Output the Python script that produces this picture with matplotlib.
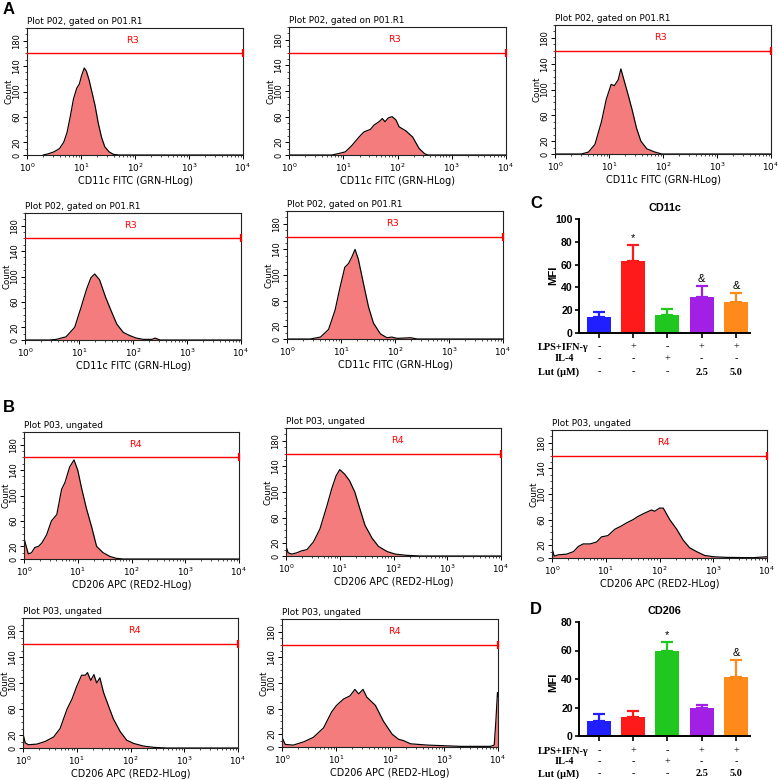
import numpy as np
import matplotlib
matplotlib.use('Agg')
import matplotlib.pyplot as plt
import matplotlib.transforms as mtransforms
from matplotlib.ticker import MultipleLocator, LogLocator, NullFormatter

# ---------------- data ----------------
# Histograms: log10(fluorescence) and count
a1_logx = [0.30, 0.40, 0.50, 0.60, 0.68, 0.74, 0.80, 0.86, 0.92, 0.97, 1.01, 1.06, 1.10, 1.15, 1.20, 1.26, 1.32, 1.38, 1.44, 1.52, 1.60, 1.70, 4.0]
a1_count = [0, 2, 5, 10, 20, 35, 60, 88, 105, 112, 125, 137, 132, 118, 100, 78, 50, 28, 13, 5, 1, 0, 0]

a2_logx = [0.0, 0.79, 0.95, 1.04, 1.16, 1.29, 1.38, 1.50, 1.57, 1.66, 1.72, 1.77, 1.83, 1.90, 1.97, 2.03, 2.15, 2.28, 2.40, 2.50, 2.56, 4.0]
a2_count = [0, 0, 3, 5, 15, 28, 36, 40, 47, 52, 57, 52, 58, 60, 55, 44, 38, 28, 10, 2, 0, 0]

a3_logx = [0.0, 0.49, 0.62, 0.74, 0.86, 0.95, 1.04, 1.10, 1.17, 1.22, 1.26, 1.36, 1.43, 1.51, 1.59, 1.70, 1.85, 1.98, 4.0]
a3_count = [0, 0, 3, 15, 50, 85, 108, 106, 115, 132, 120, 90, 68, 40, 20, 8, 3, 0, 0]

a4_logx = [0.0, 0.45, 0.58, 0.76, 0.92, 1.04, 1.14, 1.22, 1.29, 1.38, 1.49, 1.60, 1.70, 1.82, 1.94, 2.06, 2.19, 2.35, 2.41, 2.50, 4.0]
a4_count = [0, 0, 1, 5, 20, 52, 80, 98, 104, 95, 68, 45, 25, 12, 7, 3, 1, 1, 3, 0, 0]

a5_logx = [0.0, 0.43, 0.62, 0.77, 0.89, 0.98, 1.07, 1.14, 1.20, 1.26, 1.32, 1.42, 1.51, 1.60, 1.73, 1.85, 1.94, 2.04, 2.29, 2.41, 4.0]
a5_count = [0, 0, 3, 15, 45, 80, 112, 118, 128, 140, 125, 85, 50, 25, 8, 2, 3, 1, 2, 0, 0]

b1_logx = [0.0, 0.04, 0.08, 0.14, 0.20, 0.27, 0.33, 0.42, 0.51, 0.61, 0.70, 0.76, 0.85, 0.93, 1.00, 1.07, 1.16, 1.26, 1.35, 1.47, 1.60, 1.72, 1.85, 4.0]
b1_count = [33, 20, 8, 10, 18, 20, 25, 38, 60, 70, 110, 120, 145, 156, 140, 112, 80, 50, 20, 10, 4, 1, 0, 0]

b2_logx = [0.0, 0.04, 0.11, 0.20, 0.29, 0.39, 0.51, 0.63, 0.76, 0.85, 0.93, 1.00, 1.09, 1.18, 1.28, 1.37, 1.47, 1.60, 1.72, 1.88, 2.03, 2.25, 2.50, 4.0]
b2_count = [15, 5, 3, 5, 8, 10, 22, 42, 78, 105, 125, 135, 128, 118, 100, 75, 48, 28, 15, 7, 3, 1, 0, 0]

b3_logx = [0.0, 0.04, 0.12, 0.27, 0.40, 0.49, 0.58, 0.71, 0.83, 0.92, 1.04, 1.17, 1.29, 1.39, 1.51, 1.60, 1.72, 1.85, 1.91, 2.00, 2.07, 2.19, 2.32, 2.44, 2.56, 2.69, 2.84, 3.00, 3.24, 3.74, 4.0]
b3_count = [15, 3, 5, 6, 10, 18, 22, 22, 25, 33, 35, 45, 50, 55, 60, 65, 70, 75, 73, 78, 78, 60, 45, 28, 16, 10, 4, 2, 1, 0.5, 2]

b4_logx = [0.0, 0.04, 0.10, 0.26, 0.41, 0.57, 0.69, 0.82, 0.91, 1.00, 1.09, 1.16, 1.20, 1.26, 1.32, 1.37, 1.43, 1.50, 1.59, 1.68, 1.81, 1.93, 2.06, 2.24, 2.43, 2.67, 4.0]
b4_count = [22, 8, 5, 6, 10, 17, 30, 60, 75, 95, 112, 112, 116, 104, 113, 100, 108, 85, 65, 45, 25, 12, 7, 3, 1, 0, 0]

b5_logx = [0.0, 0.06, 0.21, 0.40, 0.58, 0.77, 0.92, 1.01, 1.14, 1.26, 1.35, 1.42, 1.50, 1.57, 1.73, 1.88, 2.04, 2.16, 2.25, 2.38, 2.69, 3.00, 3.31, 3.86, 3.93, 3.96, 3.99, 4.0]
b5_count = [15, 4, 3, 8, 15, 30, 55, 65, 75, 80, 90, 83, 90, 78, 65, 40, 20, 12, 10, 5, 3, 2, 1, 1, 3, 40, 85, 80]

# Bar charts
groups = ['Control', 'LPS+IFN-γ', 'IL-4', 'LPS+IFN-γ+Lut 2.5', 'LPS+IFN-γ+Lut 5.0']
cd11c_mfi = [14, 63.5, 15.5, 31.5, 27]
cd11c_err = [4, 14, 5.5, 10, 8.5]
cd11c_marks = ['', '*', '', '&', '&']
cd206_mfi = [10.5, 13.5, 59.5, 19.5, 41.5]
cd206_err = [5, 4, 6.5, 2.5, 12]
cd206_marks = ['', '', '*', '', '&']

row_labels = ['LPS+IFN-\u03b3', 'IL-4', 'Lut (\u03bcM)']
row_lps = ['-', '+', '-', '+', '+']
row_il4 = ['-', '-', '+', '-', '-']
row_lut = ['-', '-', '-', '2.5', '5.0']

bar_colors = ['#1F1FFF', '#FF1A1A', '#1FC71F', '#A21FE6', '#FF8A1A']
FILL = '#F47C7C'

# ---------------- figure ----------------
W, H = 778, 780
fig = plt.figure(figsize=(W / 100, H / 100), dpi=100)
SANS = ['DejaVu Sans']
ARIAL = ['Liberation Sans', 'DejaVu Sans']
TIMES = ['Liberation Serif', 'DejaVu Serif']


def px_axes(l, t, r, b):
    return fig.add_axes([l / W, 1 - b / H, (r - l) / W, (b - t) / H])


def fig_text(x, y, s, **kw):
    fig.text(x / W, 1 - y / H, s, **kw)


def draw_hist(box, logx, count, title, xlabel, gate, gate_lx):
    l, t, r, b = box
    ax = px_axes(*box)
    x = 10 ** np.array(logx)
    ax.fill_between(x, count, 0, color=FILL, lw=0, zorder=1)
    ax.plot(x, count, color='black', lw=0.85, zorder=2)
    ax.set_xscale('log')
    ax.set_xlim(1, 1e4)
    ax.set_ylim(0, 200)
    ax.plot([1, 1e4], [160, 160], color='red', lw=1.0, zorder=3)
    ax.plot([1e4], [160], marker='|', color='red', ms=6, mew=1.6, clip_on=False, zorder=4)
    ax.text(10 ** gate_lx, 181, gate, color='red', ha='center', va='center',
            fontsize=6.8, family=SANS)
    ax.xaxis.set_major_locator(LogLocator(base=10, numticks=10))
    ax.xaxis.set_minor_locator(LogLocator(base=10, subs=np.arange(2, 10), numticks=20))
    ax.xaxis.set_minor_formatter(NullFormatter())
    ax.yaxis.set_minor_locator(MultipleLocator(10))
    ax.set_yticks([0, 20, 60, 100, 140, 180])
    ax.set_yticklabels(['0', '20', '60', '100', '140', '180'], rotation=90, va='center',
                       fontsize=6.0, family=SANS)
    ax.tick_params(axis='x', labelsize=6.4, length=3, width=0.7, pad=1.5)
    ax.tick_params(axis='y', length=3, width=0.7, pad=1)
    ax.tick_params(which='minor', length=1.6, width=0.5)
    for lab in ax.get_xticklabels():
        lab.set_family(SANS)
    for sp in ax.spines.values():
        sp.set_linewidth(0.8)
        sp.set_color('#222222')
    ax.set_ylabel('Count', fontsize=6.1, family=SANS)
    ax.yaxis.set_label_coords(-13.5 / (r - l), 0.5)
    ax.set_xlabel(xlabel, fontsize=6.9, family=SANS, labelpad=1.5)
    ax.text(0, 1.012, title, transform=ax.transAxes, ha='left', va='bottom',
            fontsize=6.4, family=SANS)
    return ax


tA = 'Plot P02, gated on P01.R1'
tB = 'Plot P03, ungated'
xA = 'CD11c FITC (GRN-HLog)'
xB = 'CD206 APC (RED2-HLog)'

draw_hist((27, 28, 243, 155), a1_logx, a1_count, tA, xA, 'R3', 1.95)
draw_hist((289, 27, 506, 155), a2_logx, a2_count, tA, xA, 'R3', 1.95)
draw_hist((555, 25, 771, 154), a3_logx, a3_count, tA, xA, 'R3', 1.95)
draw_hist((25, 213, 241, 340), a4_logx, a4_count, tA, xA, 'R3', 1.95)
draw_hist((287, 211, 503, 339), a5_logx, a5_count, tA, xA, 'R3', 1.95)

draw_hist((24, 432, 239, 559), b1_logx, b1_count, tB, xB, 'R4', 2.08)
draw_hist((286, 428, 501, 556), b2_logx, b2_count, tB, xB, 'R4', 2.08)
draw_hist((552, 430, 767, 558), b3_logx, b3_count, tB, xB, 'R4', 2.08)
draw_hist((23, 618, 238, 748), b4_logx, b4_count, tB, xB, 'R4', 2.08)
draw_hist((282, 619, 498, 747), b5_logx, b5_count, tB, xB, 'R4', 2.08)


def draw_bar(box, means, errs, marks, title, ymax, ystep, row_ys, mfi_y):
    l, t, r, b = box
    ax = px_axes(*box)
    xs = np.arange(len(means))
    for i in range(len(means)):
        ax.errorbar(xs[i], means[i], yerr=[[0], [errs[i]]], color=bar_colors[i],
                    capsize=4.3, elinewidth=1.6, capthick=1.6, zorder=1)
    ax.bar(xs, means, width=0.7, color=bar_colors, zorder=2)
    for i, m in enumerate(marks):
        if m:
            ax.text(xs[i], means[i] + errs[i] + ymax * 0.015, m, ha='center', va='bottom',
                    fontsize=8, family=ARIAL)
    ax.set_xlim(-0.58, 4.41)
    ax.set_ylim(0, ymax)
    ax.set_yticks(np.arange(0, ymax + 1, ystep))
    ax.set_xticks(xs)
    ax.set_xticklabels([])
    ax.tick_params(axis='y', labelsize=7.6, length=3, width=1.2, pad=1.5)
    ax.tick_params(axis='x', length=3.5, width=1.2)
    for lab in ax.get_yticklabels():
        lab.set_fontweight('bold')
        lab.set_family(ARIAL)
    ax.spines['top'].set_visible(False)
    ax.spines['right'].set_visible(False)
    ax.spines['left'].set_linewidth(1.4)
    ax.spines['bottom'].set_linewidth(1.4)
    fig_text((l + r) / 2, t - 11, title, ha='center', va='center', fontsize=7.8,
             fontweight='bold', family=ARIAL)
    fig_text(553, mfi_y, 'MFI', ha='center', va='center', rotation=90, fontsize=8.2,
             fontweight='bold', family=ARIAL)
    trans = mtransforms.blended_transform_factory(ax.transData, fig.transFigure)
    rows = [row_lps, row_il4, row_lut]
    label_x = [538, 555, 538]
    for k, (lab, vals) in enumerate(zip(row_labels, rows)):
        yy = 1 - row_ys[k] / H
        fig.text(label_x[k] / W, yy, lab, ha='left', va='center', fontsize=7.4,
                 fontweight='bold', family=TIMES)
        for i, v in enumerate(vals):
            bold = v not in ('-', '+')
            ax.text(xs[i], yy, v, transform=trans, ha='center', va='center',
                    fontsize=7.4, fontweight='bold' if bold else 'normal',
                    family=TIMES, clip_on=False)
    return ax


draw_bar((579, 219, 750, 333), cd11c_mfi, cd11c_err, cd11c_marks, 'CD11c', 100, 20,
         [347, 359, 372], 275)
draw_bar((579, 622, 750, 736), cd206_mfi, cd206_err, cd206_marks, 'CD206', 80, 20,
         [751, 762, 774], 682)

# panel letters
for s, x, y in [('A', 9, 9), ('B', 9, 408), ('C', 536, 204), ('D', 536, 610)]:
    fig_text(x, y, s, ha='center', va='center', fontsize=12, fontweight='bold', family=ARIAL)

fig.savefig('out.png', dpi=100)
